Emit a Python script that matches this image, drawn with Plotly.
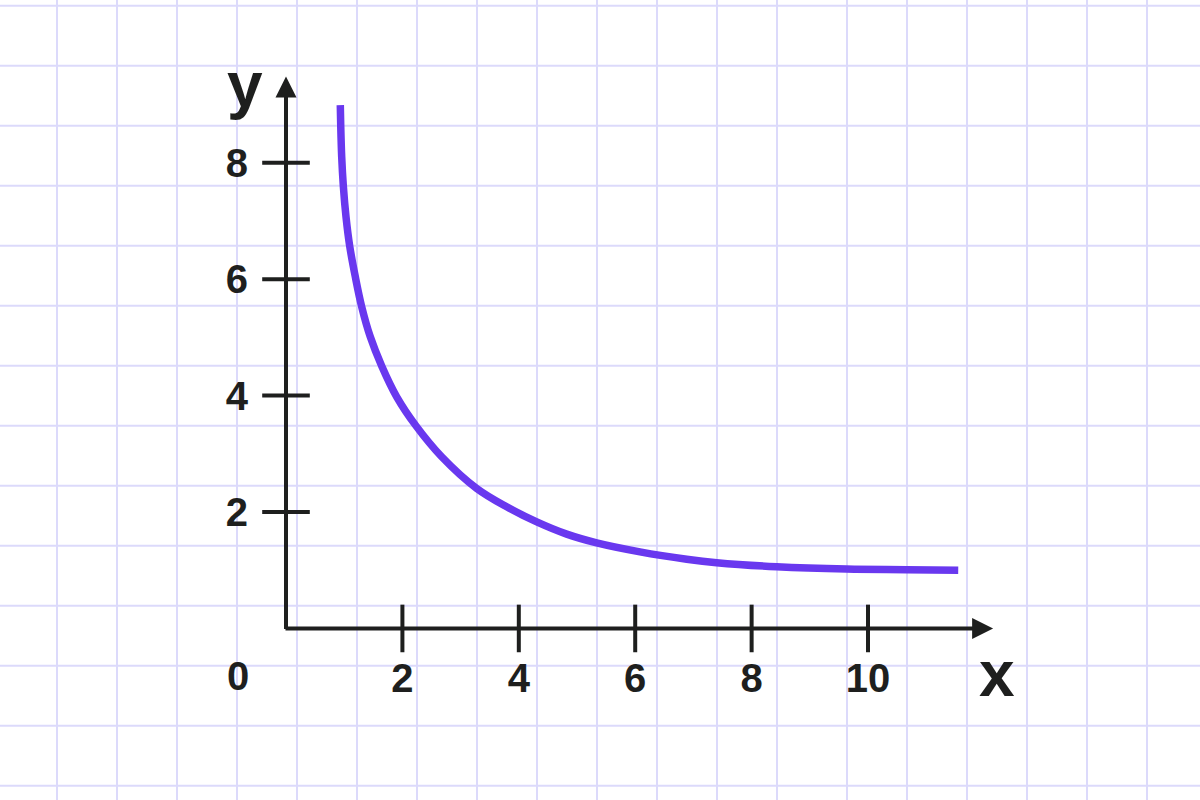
import plotly.graph_objects as go

# ---- data ----
curve_x = [0.933, 0.940, 0.957, 0.985, 1.031, 1.094, 1.191, 1.300, 1.448, 1.644, 1.902,
           2.234, 2.675, 3.277, 3.792, 4.308, 4.823, 5.338, 6.082, 6.885,
           7.400, 8.431, 9.634, 10.665, 11.55]
curve_y = [8.99, 8.65, 8.10, 7.60, 7.07, 6.57, 6.04, 5.53, 5.01, 4.51, 3.98,
           3.48, 2.95, 2.405, 2.09, 1.83, 1.62, 1.47, 1.316, 1.19,
           1.13, 1.06, 1.02, 1.01, 1.00]

x_ticks = [2, 4, 6, 8, 10]
x_tick_labels = ["2", "4", "6", "8", "10"]
y_ticks = [2, 4, 6, 8]
y_tick_labels = ["2", "4", "6", "8"]

x_arrow_end = 12.15
y_arrow_end = 9.48

# ---- style ----
W, H = 1200, 800
AXIS_COLOR = "#1e1f1e"
CURVE_COLOR = "#6938ef"
GRID_COLOR = "#dcdafb"
FONT = "Liberation Sans"

x_range = [-4.914, 15.704]
y_range = [-2.947, 10.796]

grid_v = [57 + 60 * k for k in range(13)] + [847 + 60 * k for k in range(6)]
grid_h = [5.7 + 60 * k for k in range(14)]

fig = go.Figure()

# curve
fig.add_trace(go.Scatter(
    x=curve_x, y=curve_y, mode="lines",
    line=dict(color=CURVE_COLOR, width=7.5, shape="spline", smoothing=1.0),
    hoverinfo="skip", showlegend=False,
))

# tick marks crossing the axes
fig.add_trace(go.Scatter(
    x=x_ticks, y=[0] * len(x_ticks), mode="markers",
    marker=dict(symbol="line-ns", size=34, line=dict(color=AXIS_COLOR, width=4)),
    hoverinfo="skip", showlegend=False,
))
fig.add_trace(go.Scatter(
    x=[0] * len(y_ticks), y=y_ticks, mode="markers",
    marker=dict(symbol="line-ew", size=34, line=dict(color=AXIS_COLOR, width=4)),
    hoverinfo="skip", showlegend=False,
))

shapes = []
for px in grid_v:
    shapes.append(dict(type="line", xref="paper", yref="paper",
                       x0=px / W, x1=px / W, y0=0, y1=1, layer="below",
                       line=dict(color=GRID_COLOR, width=2)))
for py in grid_h:
    shapes.append(dict(type="line", xref="paper", yref="paper",
                       x0=0, x1=1, y0=1 - py / H, y1=1 - py / H, layer="below",
                       line=dict(color=GRID_COLOR, width=2)))

annotations = [
    # x axis with arrow
    dict(x=x_arrow_end, y=0, ax=-0.035, ay=0, xref="x", yref="y", axref="x", ayref="y",
         showarrow=True, arrowhead=2, arrowsize=1.05, arrowwidth=4, arrowcolor=AXIS_COLOR,
         text="", standoff=0),
    # y axis with arrow
    dict(x=0, y=y_arrow_end, ax=0, ay=-0.035, xref="x", yref="y", axref="x", ayref="y",
         showarrow=True, arrowhead=2, arrowsize=1.05, arrowwidth=4, arrowcolor=AXIS_COLOR,
         text="", standoff=0),
    # axis names
    dict(x=x_arrow_end, y=0, xref="x", yref="y", text="x", showarrow=False,
         xanchor="center", yanchor="middle", xshift=4, yshift=-46,
         font=dict(family=FONT, size=64, color=AXIS_COLOR, weight="bold")),
    dict(x=0, y=y_arrow_end, xref="x", yref="y", text="y", showarrow=False,
         xanchor="center", yanchor="middle", xshift=-41, yshift=-8,
         font=dict(family=FONT, size=64, color=AXIS_COLOR, weight="bold")),
    # origin label
    dict(x=0, y=0, xref="x", yref="y", text="0", showarrow=False,
         xanchor="center", yanchor="middle", xshift=-48, yshift=-48,
         font=dict(family=FONT, size=40, color=AXIS_COLOR, weight="bold")),
]

tick_font = dict(family=FONT, size=40, color=AXIS_COLOR, weight="bold")

fig.update_layout(
    width=W, height=H,
    margin=dict(l=0, r=0, t=0, b=0),
    paper_bgcolor="white", plot_bgcolor="white",
    shapes=shapes, annotations=annotations,
    xaxis=dict(range=x_range, domain=[0, 1], anchor="free", position=(H - 651) / H,
               tickvals=x_ticks, ticktext=x_tick_labels, ticks="", ticklabelstandoff=0,
               showgrid=False, zeroline=False, showline=False, tickfont=tick_font,
               fixedrange=True),
    yaxis=dict(range=y_range, domain=[0, 1], anchor="free", position=248 / W,
               tickvals=y_ticks, ticktext=y_tick_labels, ticks="", ticklabelstandoff=0,
               showgrid=False, zeroline=False, showline=False, tickfont=tick_font,
               fixedrange=True),
    showlegend=False,
)

fig.write_html("out.html", config={"displayModeBar": False},
               post_script="document.body.style.margin='0';document.body.style.overflow='hidden';")
